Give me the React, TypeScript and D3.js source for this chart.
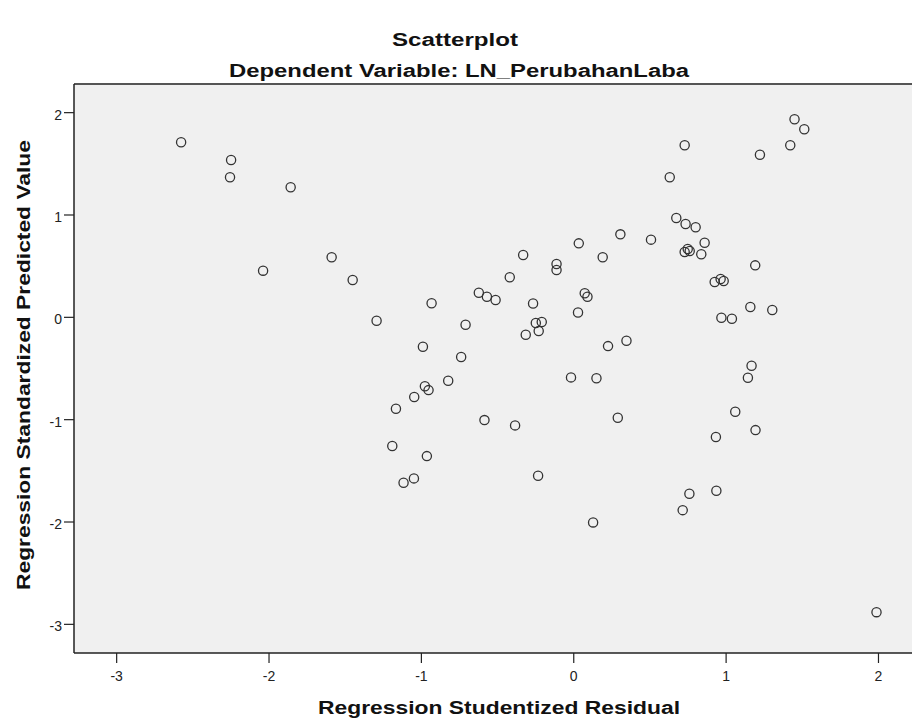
import React from "react";
import * as d3 from "d3";

const residual: number[] = [
  -2.577, -2.249, -2.256, -1.858, -2.039, -1.589, -1.451, -0.933, -0.623, -0.570,
  -0.513, -0.420, -0.332, -0.113, -0.113, 0.033, 0.190, -0.267, 0.072, 0.090,
  0.028, 1.449, 1.513, 1.421, 1.222, 0.728, 0.630, 0.673, 0.734, 0.800,
  0.306, 0.507, 0.859, 0.728, 0.748, 0.761, 0.837, 1.191, 0.925, 0.964,
  0.984, 1.159, 1.303, -1.294, -0.710, -0.249, -0.210, -0.230, -0.315, -0.990,
  -0.739, -0.824, -0.977, -0.953, -1.047, -1.167, -0.586, -0.385, -1.191, -0.964,
  -1.049, -1.117, -0.234, 0.127, -0.018, 0.149, 0.969, 1.038, 0.225, 0.346,
  1.167, 1.143, 1.060, 1.193, 0.933, 0.289, 0.759, 0.936, 0.715, 1.987,
];

const predicted: number[] = [
  1.711, 1.538, 1.369, 1.271, 0.456, 0.587, 0.365, 0.137, 0.240, 0.201,
  0.169, 0.391, 0.609, 0.521, 0.462, 0.723, 0.587, 0.135, 0.235, 0.201,
  0.047, 1.935, 1.838, 1.681, 1.589, 1.681, 1.369, 0.971, 0.912, 0.880,
  0.811, 0.759, 0.729, 0.638, 0.668, 0.648, 0.616, 0.508, 0.345, 0.374,
  0.355, 0.101, 0.071, -0.033, -0.072, -0.056, -0.046, -0.134, -0.170, -0.287,
  -0.388, -0.620, -0.674, -0.711, -0.779, -0.893, -1.004, -1.056, -1.258, -1.356,
  -1.574, -1.617, -1.548, -2.004, -0.587, -0.596, -0.004, -0.014, -0.281, -0.229,
  -0.473, -0.590, -0.923, -1.102, -1.170, -0.981, -1.724, -1.695, -1.884, -2.881,
];

const xTicks: number[] = [-3, -2, -1, 0, 1, 2];
const yTicks: number[] = [-3, -2, -1, 0, 1, 2];

const title = "Scatterplot";
const subtitle = "Dependent Variable: LN_PerubahanLaba";
const xLabel = "Regression Studentized Residual";
const yLabel = "Regression Standardized Predicted Value";

export default function App() {
  const W = 912;
  const H = 724;
  const left = 74, top = 84, bottom = 653, right = 912;
  const x = d3.scaleLinear().domain([-3.28, 2.22]).range([left, right]);
  const y = d3.scaleLinear().domain([-3.28, 2.28]).range([bottom, top]);
  const font = "'Liberation Sans', Arial, sans-serif";

  return (
    <svg
      width={W}
      height={H}
      style={{ position: "absolute", left: 0, top: 0, background: "#fff" }}
      fontFamily={font}
    >
      <rect x={0} y={0} width={W} height={H} fill="#fff" />
      <text x={455} y={46} textAnchor="middle" fontSize={18} fontWeight="bold" fill="#111"
        textLength={126} lengthAdjust="spacingAndGlyphs">
        {title}
      </text>
      <text x={459} y={77} textAnchor="middle" fontSize={18} fontWeight="bold" fill="#111"
        textLength={460} lengthAdjust="spacingAndGlyphs">
        {subtitle}
      </text>

      <rect x={left} y={top} width={right - left + 10} height={bottom - top} fill="#f0f0f0" />
      <line x1={left} y1={top} x2={W} y2={top} stroke="#555" strokeWidth={2} />
      <line x1={left} y1={top} x2={left} y2={bottom} stroke="#222" strokeWidth={1.5} />
      <line x1={left} y1={bottom} x2={W} y2={bottom} stroke="#222" strokeWidth={1.5} />

      {yTicks.map((t) => (
        <g key={"y" + t}>
          <line x1={left - 10} x2={left} y1={y(t)} y2={y(t)} stroke="#222" strokeWidth={1.2} />
          <text x={left - 12} y={y(t) + 7} textAnchor="end" fontSize={14} fill="#222">
            {t}
          </text>
        </g>
      ))}
      {xTicks.map((t) => (
        <g key={"x" + t}>
          <line x1={x(t)} x2={x(t)} y1={bottom} y2={bottom + 10} stroke="#222" strokeWidth={1.2} />
          <text x={x(t)} y={bottom + 28} textAnchor="middle" fontSize={14} fill="#222">
            {t}
          </text>
        </g>
      ))}

      {residual.map((r, i) => (
        <circle
          key={i}
          cx={x(r)}
          cy={y(predicted[i])}
          r={4.6}
          fill="none"
          stroke="#333"
          strokeWidth={1.3}
        />
      ))}

      <text x={499} y={714} textAnchor="middle" fontSize={18} fontWeight="bold" fill="#111"
        textLength={362} lengthAdjust="spacingAndGlyphs">
        {xLabel}
      </text>
      <text
        transform={`translate(30, 365) rotate(-90)`}
        textAnchor="middle"
        fontSize={18}
        fontWeight="bold"
        fill="#111"
        textLength={450}
        lengthAdjust="spacingAndGlyphs"
      >
        {yLabel}
      </text>
    </svg>
  );
}
